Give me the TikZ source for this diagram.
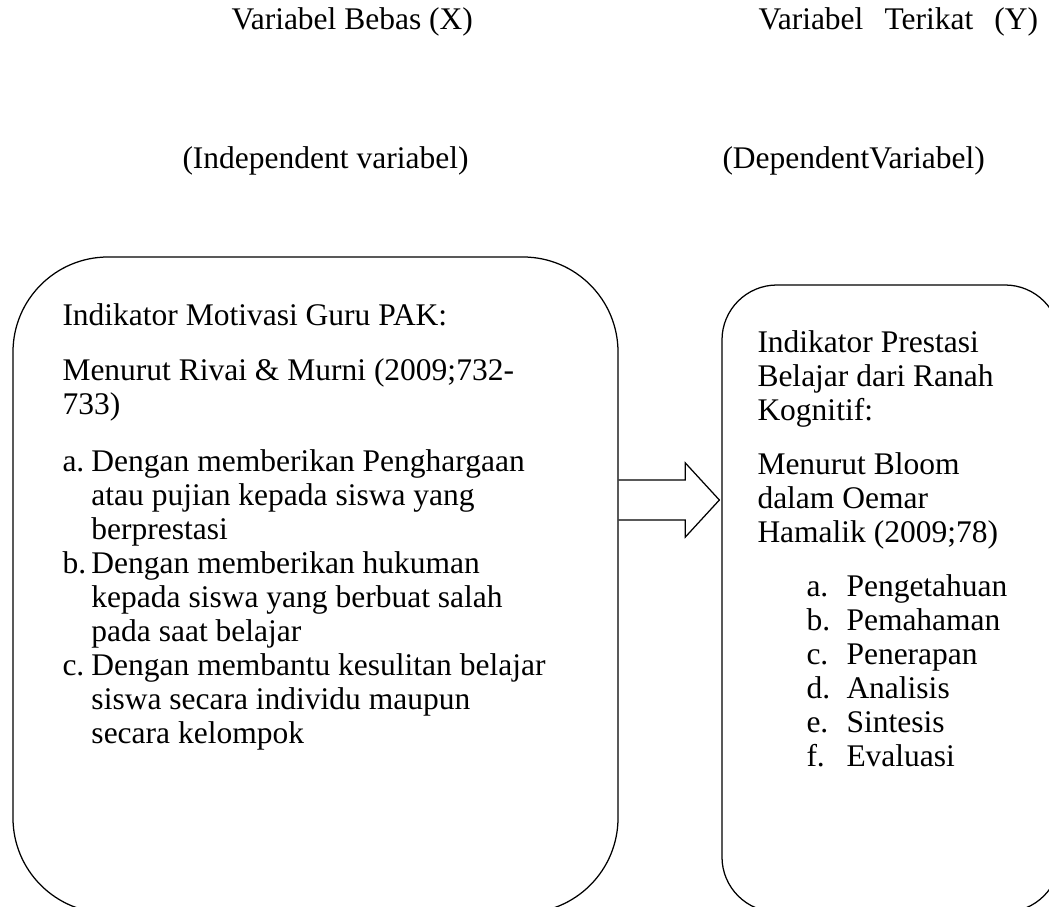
\documentclass[tikz,border=0pt]{standalone}
\usepackage{fontspec}
\setmainfont{Liberation Serif}
\usetikzlibrary{calc}

\begin{document}
\begin{tikzpicture}[x=0.4pt,y=-0.4pt,
	kotak/.style={draw,line width=0.5pt,rounded corners=#1,inner sep=0pt},
	teks/.style={anchor=base west,inner sep=0pt,font=\fontsize{12.6}{14}\selectfont},
	panah/.style={line width=0.5pt,line join=miter}]
	\useasboundingbox (0,0) rectangle (1049,907);
	\clip (0,0) rectangle (1049,907);
	\node[teks] (jbebas) at (231,29) {Variabel Bebas (X)};
	\node[teks] (jterikat) at (758,29) {Variabel\hspace{0.42em} Terikat\hspace{0.42em} (Y)};
	\node[teks] (jind) at (182,168) {(Independent variabel)};
	\node[teks] (jdep) at (722,168) {(DependentVariabel)};
	\node[kotak=38pt,minimum width=242pt,minimum height=262.4pt] (bebas) at (315.5,585) {};
	\node[kotak=22pt,minimum width=135.2pt,minimum height=250.8pt] (terikat) at (891,598.5) {};
	\node[teks] (x1) at (62,325) {Indikator Motivasi Guru PAK:};
	\node[teks] (x2) at (62,380) {Menurut Rivai \& Murni (2009;732-};
	\node[teks] (x3) at (62,414) {733)};
	\node[teks] (xa) at (62,471) {a.};
	\node[teks] (xa1) at (91,471) {Dengan memberikan Penghargaan};
	\node[teks] (xa2) at (91,505) {atau pujian kepada siswa yang};
	\node[teks] (xa3) at (91,539) {berprestasi};
	\node[teks] (xb) at (62,573) {b.};
	\node[teks] (xb1) at (91,573) {Dengan memberikan hukuman};
	\node[teks] (xb2) at (91,607) {kepada siswa yang berbuat salah};
	\node[teks] (xb3) at (91,641) {pada saat belajar};
	\node[teks] (xc) at (62,675) {c.};
	\node[teks] (xc1) at (91,675) {Dengan membantu kesulitan belajar};
	\node[teks] (xc2) at (91,709) {siswa secara individu maupun};
	\node[teks] (xc3) at (91,743) {secara kelompok};
	\node[teks] (y1) at (757,352) {Indikator Prestasi};
	\node[teks] (y2) at (757,386) {Belajar dari Ranah};
	\node[teks] (y3) at (757,420) {Kognitif:};
	\node[teks] (y4) at (757,474) {Menurut Bloom};
	\node[teks] (y5) at (757,508) {dalam Oemar};
	\node[teks] (y6) at (757,542) {Hamalik (2009;78)};
	\node[teks] (ya) at (806,596) {a.};
	\node[teks] (ya1) at (846,596) {Pengetahuan};
	\node[teks] (yb) at (806,630) {b.};
	\node[teks] (yb1) at (846,630) {Pemahaman};
	\node[teks] (yc) at (806,664) {c.};
	\node[teks] (yc1) at (846,664) {Penerapan};
	\node[teks] (yd) at (806,698) {d.};
	\node[teks] (yd1) at (846,698) {Analisis};
	\node[teks] (ye) at (806,732) {e.};
	\node[teks] (ye1) at (846,732) {Sintesis};
	\node[teks] (yf) at (806,766) {f.};
	\node[teks] (yf1) at (846,766) {Evaluasi};
	\coordinate (tengah) at (0,500);
	\draw[panah] ($(bebas.east |- tengah)+(0,-20)$) -- ($(terikat.west |- tengah)+(-36,-20)$)
		-- ($(terikat.west |- tengah)+(-36,-37)$) -- ($(terikat.west |- tengah)+(-2,0)$)
		-- ($(terikat.west |- tengah)+(-36,37)$) -- ($(terikat.west |- tengah)+(-36,20)$)
		-- ($(bebas.east |- tengah)+(0,20)$);
\end{tikzpicture}
\end{document}
